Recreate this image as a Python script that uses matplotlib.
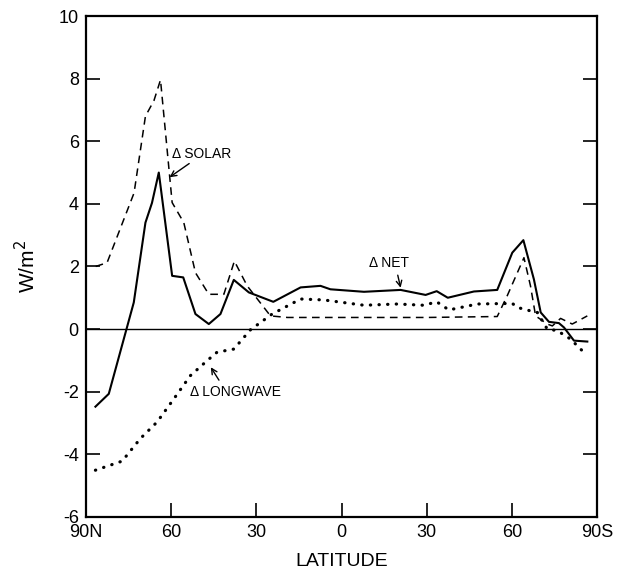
import numpy as np
import matplotlib
matplotlib.use("Agg")
import matplotlib.pyplot as plt

plt.rcParams.update({
    "font.family": ["Liberation Sans", "DejaVu Sans"],
    "axes.linewidth": 1.6,
})

# latitude axis runs 90N (-90) -> 90S (+90)
net_lat = [-86.6, -81.9, -73.1, -69.0, -66.7, -64.3, -59.6, -55.7, -51.4, -46.7,
           -42.6, -37.9, -32.6, -24.0, -14.4, -7.4, -3.9, 7.9, 20.8, 29.6,
           33.5, 37.4, 46.6, 54.8, 60.1, 64.0, 67.7, 70.1, 73.0, 76.5,
           78.3, 81.8, 86.5]
net_val = [-2.48, -2.07, 0.85, 3.4, 4.03, 5.0, 1.70, 1.65, 0.48, 0.16,
           0.48, 1.57, 1.17, 0.87, 1.33, 1.38, 1.27, 1.19, 1.25, 1.09,
           1.21, 1.0, 1.2, 1.25, 2.44, 2.84, 1.59, 0.53, 0.23, 0.19,
           0.05, -0.37, -0.4]

solar_lat = [-86.5, -82.5, -73.0, -69.0, -66.0, -63.7, -59.6, -55.5, -51.4, -46.7,
             -41.4, -37.7, -33.2, -25.0, -19.0, 0.0, 30.0, 54.8, 58.3, 64.2,
             66.5, 68.3, 72.4, 74.2, 77.1, 81.2, 86.5]
solar_val = [2.0, 2.12, 4.35, 6.8, 7.3, 7.96, 4.04, 3.4, 1.8, 1.11,
             1.11, 2.17, 1.38, 0.42, 0.37, 0.37, 0.37, 0.4, 1.06, 2.28,
             1.38, 0.42, 0.16, 0.1, 0.34, 0.16, 0.42]

lw_lat = [-86.6, -77.2, -70.8, -64.9, -59.0, -53.2, -47.3, -43.8, -37.9, -32.0,
          -24.4, -14.4, -6.3, -0.4, 7.9, 19.6, 29.0, 33.5, 37.8, 47.8,
          60.1, 61.9, 66.5, 68.9, 72.4, 75.9, 80.6, 85.9]
lw_val = [-4.51, -4.22, -3.5, -2.97, -2.23, -1.49, -1.01, -0.74, -0.64, -0.02,
          0.48, 0.96, 0.93, 0.86, 0.76, 0.80, 0.76, 0.87, 0.61, 0.80,
          0.82, 0.69, 0.58, 0.53, 0.0, -0.05, -0.32, -0.8]

xticks = [-90, -60, -30, 0, 30, 60, 90]
xlabels = ["90N", "60", "30", "0", "30", "60", "90S"]
yticks = [-6, -4, -2, 0, 2, 4, 6, 8, 10]

fig = plt.figure(figsize=(6.17, 5.73), dpi=100)
ax = fig.add_axes([0.139, 0.098, 0.829, 0.874])

ax.axhline(0, color="black", lw=1.0)
ax.plot(net_lat, net_val, color="black", lw=1.5)
ax.plot(solar_lat, solar_val, color="black", lw=1.1, ls=(0, (5, 3.5)))
ax.plot(lw_lat, lw_val, color="black", lw=2.3, ls=(0, (0.1, 2.6)),
        dash_capstyle="round")

# curve labels with arrows
ax.annotate("\u0394 SOLAR", xy=(-60.5, 4.85), xytext=(-59.5, 5.6),
            fontsize=10, va="center", ha="left",
            arrowprops=dict(arrowstyle="->", lw=1.0, color="black",
                            shrinkA=0, shrinkB=0,
                            relpos=(0.35, 0.0)))
ax.annotate("\u0394 NET", xy=(20.8, 1.32), xytext=(9.5, 2.12),
            fontsize=10, va="center", ha="left",
            arrowprops=dict(arrowstyle="->", lw=1.0, color="black",
                            shrinkA=2, shrinkB=0, relpos=(0.7, 0.0)))
ax.annotate("\u0394 LONGWAVE", xy=(-46.0, -1.22), xytext=(-53.2, -2.02),
            fontsize=10, va="center", ha="left",
            arrowprops=dict(arrowstyle="->", lw=1.0, color="black",
                            shrinkA=2, shrinkB=0, relpos=(0.35, 1.0)))

ax.set_xlim(-90, 90)
ax.set_ylim(-6, 10)
ax.set_xticks(xticks)
ax.set_xticklabels(xlabels)
ax.set_yticks(yticks)
ax.set_yticklabels([str(v) for v in yticks])
ax.tick_params(direction="in", length=10, width=1.2, labelsize=13,
               right=True, top=False, pad=5)

ax.set_xlabel("LATITUDE", fontsize=14, labelpad=9,
              family=["Liberation Sans Narrow", "Liberation Sans"])
ax.set_ylabel("W/m$^2$", fontsize=15, labelpad=14)

fig.savefig("out.png", dpi=100)
